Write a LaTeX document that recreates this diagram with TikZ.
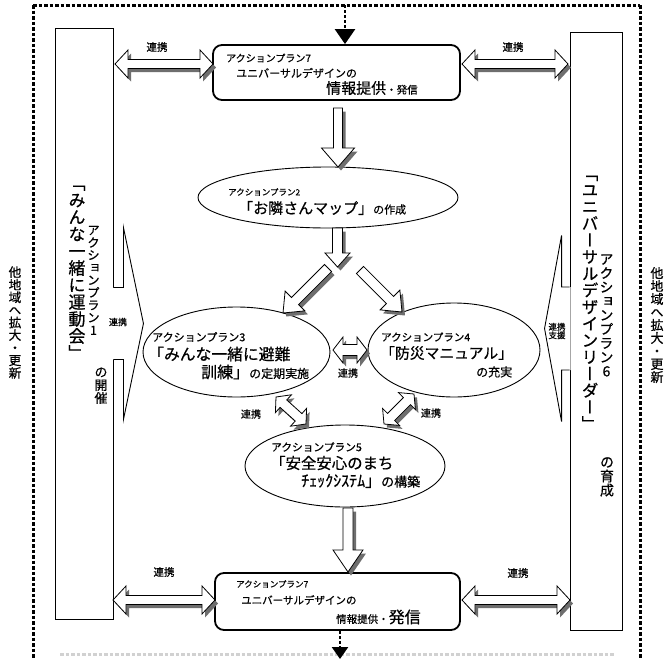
\documentclass[tikz,border=0pt]{standalone}
\usepackage{fontspec}
\usepackage{tikz}
\usetikzlibrary{shapes.geometric,arrows.meta,calc,positioning}
\newfontfamily\jp[FakeBold=0.6]{Noto Sans CJK JP}
\newfontfamily\jpv[RawFeature=+vert,FakeBold=0.6]{Noto Sans CJK JP}
\definecolor{myshadowcolor}{HTML}{6E6E6E}
\newcommand\fsz[1]{\fontsize{#1}{#1}\selectfont}

\ExplSyntaxOn
\NewDocumentCommand\tate{m}{
  \vbox{\offinterlineskip
    \tl_map_inline:nn{#1}{\hbox_to_wd:nn{1em}{\hss\vrule~height~.88em~depth~.12em~width~0pt\relax##1\hss}}}}
\ExplSyntaxOff

\newcommand\arrsetup[2]{%
  \path let \p1=(#1), \p2=(#2),
    \n1={atan2((\y2)-(\y1),(\x2)-(\x1))},
    \n2={veclen((\x2)-(\x1),(\y2)-(\y1))} in
    \pgfextra{\xdef\arrang{\n1}\xdef\arrlen{\n2}};}
\newcommand\singlearr[5]{%
  \arrsetup{#1}{#2}%
  \def\arrpath{(0,-#3) -- ({\arrlen-#5},-#3) -- ({\arrlen-#5},-#4) -- (\arrlen,0) -- ({\arrlen-#5},#4) -- ({\arrlen-#5},#3) -- (0,#3) -- cycle}%
  \path[shift={(#1)}, arrshadow, rotate=\arrang] \arrpath;
  \path[shift={(#1)}, arrbody, rotate=\arrang] \arrpath;}
\newcommand\doublearr[5]{%
  \arrsetup{#1}{#2}%
  \def\arrpath{(0,0) -- (#5,-#4) -- (#5,-#3) -- ({\arrlen-#5},-#3) -- ({\arrlen-#5},-#4) -- (\arrlen,0) -- ({\arrlen-#5},#4) -- ({\arrlen-#5},#3) -- (#5,#3) -- (#5,#4) -- cycle}%
  \path[shift={(#1)}, arrshadow, rotate=\arrang] \arrpath;
  \path[shift={(#1)}, arrbody, rotate=\arrang] \arrpath;}

\begin{document}
\begin{tikzpicture}[x=1pt, y=-1pt, font=\jp,
  pillar/.style={draw, line width=0.9pt, inner sep=0pt},
  plan7/.style={draw, line width=1.8pt, rounded corners=9pt, inner sep=0pt},
  plan/.style={ellipse, draw, line width=0.9pt, inner sep=0pt},
  lbl/.style={inner sep=0pt, anchor=west},
  renkei/.style={inner sep=0pt, font=\jp\fsz{#1}},
  renkei/.default=10.5,
  vtext/.style={inner sep=0pt, font=\jpv\fsz{#1}},
  arrbody/.style={draw, fill=white, line width=0.8pt, line join=miter},
  arrshadow/.style={fill=myshadowcolor, shift={(3,3.5)}},
  dotframe/.style={line width=3pt, dash pattern=on 3.5pt off 2pt},
  stem/.style={line width=2.5pt, dash pattern=on 3pt off 2pt}]
\path[use as bounding box, fill=white] (0,0) rectangle (665,659);
\draw[dotframe] (33,5) -- (640,5);
\draw[dotframe] (33,5) -- (33,659);
\draw[dotframe] (640,5) -- (640,659);
\draw[dotframe, black!18] (60,654) -- (615,654);
\node[vtext=12.6] (sideleft) at (15,322.5) {\tate{他地域へ拡大・更新}};
\node[vtext=13] (sideright) at (657,325) {\tate{他地域へ拡大・更新}};
%
\node[pillar, minimum width=58pt, minimum height=591pt] (lp) at (84,323.5) {};
\node[pillar, minimum width=52pt, minimum height=598pt] (rp) at (596,331) {};
\begin{scope}[shift={(lp.east)}]
  \fill[white] (-1,-36) -- (10,-36) -- (10,-96) -- (30,0) -- (10,96) -- (10,36) -- (-1,36) -- cycle;
  \draw[line width=0.9pt] (0,-36) -- (10,-36) -- (10,-96) -- (30,0) -- (10,96) -- (10,36) -- (0,36);
\end{scope}
\begin{scope}[shift={($(rp.west)+(0,-2.5)$)}]
  \fill[white] (1,-41.5) -- (-8,-41.5) -- (-8,-93) -- (-25,0) -- (-8,93) -- (-8,41.5) -- (1,41.5) -- cycle;
  \draw[line width=0.9pt] (0,-41.5) -- (-8,-41.5) -- (-8,-93) -- (-25,0) -- (-8,93) -- (-8,41.5) -- (0,41.5);
\end{scope}
\node[renkei=9] (lpr) at (118,322) {連携};
\node[renkei=8.5, align=center] (rpr) at (557,331) {連携\\支援};
\node[vtext=17] (lpmain) at (77,268) {\tate{「みんな一緒に運動会」}};
\node[vtext=12.5] (lpsub) at (93.5,280) {\tate{アクションプラン1}};
\node[vtext=13] (lpend) at (101,385) {\tate{の開催}};
\node[vtext=16.7] (rpmain) at (590,298.5) {\tate{「ユニバーサルデザインリーダー」}};
\node[vtext=14] (rpsub) at (606.5,315) {\tate{アクションプラン6}};
\node[vtext=14] (rpend) at (607,476) {\tate{の育成}};
%
\node[plan7, minimum width=247pt, minimum height=55pt] (ap7t) at (336.5,72.5) {};
\node[lbl, font=\jp\fsz{10}] (ap7ta) at (226,58) {アクションプラン7};
\node[lbl, font=\jp\fsz{11}] (ap7tb) at (236,73) {ユニバーサルデザインの};
\node[lbl] (ap7tc) at (326,88) {{\fsz{15}情報提供}{\fsz{10.5}・発信}};
\node[plan7, minimum width=245pt, minimum height=57pt] (ap7b) at (337.5,601.5) {};
\node[lbl, font=\jp\fsz{8.5}] (ap7ba) at (236,584) {アクションプラン7};
\node[lbl, font=\jp\fsz{10.5}] (ap7bb) at (241,600) {ユニバーサルデザインの};
\node[lbl] (ap7bc) at (336,617) {{\fsz{10.5}情報提供・}{\fsz{16}発信}};
%
\node[plan, minimum width=260pt, minimum height=61pt] (ap2) at (328,197.5) {};
\node[lbl, font=\jp\fsz{8.5}] (ap2a) at (228,192) {アクションプラン2};
\node[lbl] (ap2b) at (238,208) {{\fsz{15}「お隣さんマップ」}{\fsz{11}の作成}};
\node[plan, minimum width=187pt, minimum height=90pt] (ap3) at (236.5,352) {};
\node[lbl, font=\jp\fsz{11}] (ap3a) at (152,337) {アクションプラン3};
\node[lbl, font=\jp\fsz{15.8}] (ap3b) at (148,354) {「みんな一緒に避難};
\node[lbl] (ap3c) at (201,372) {{\fsz{16}訓練」}{\fsz{12}の定期実施}};
\node[plan, minimum width=172pt, minimum height=94pt] (ap4) at (454,350) {};
\node[lbl, font=\jp\fsz{10.5}] (ap4a) at (381,337) {アクションプラン4};
\node[lbl, font=\jp\fsz{14.8}] (ap4b) at (380,353) {「防災マニュアル」};
\node[lbl, font=\jp\fsz{12}] (ap4c) at (476,372) {の充実};
\node[plan, minimum width=200pt, minimum height=82pt] (ap5) at (345,466) {};
\node[lbl, font=\jp\fsz{10.7}] (ap5a) at (271,447) {アクションプラン5};
\node[lbl, font=\jp\fsz{15.4}] (ap5b) at (270,463) {「安全安心のまち};
\node[lbl] (ap5c) at (301,481) {{\fsz{16}ﾁｪｯｸｼｽﾃﾑ」}{\fsz{13}の構築}};
%
\coordinate (topin) at (345,5);
\coordinate (botout) at (340,659);
\draw[stem, -{Triangle[width=20pt,length=15pt]}] (topin) -- (topin |- ap7t.north);
\draw[stem, -{Triangle[width=16pt,length=12pt]}] (ap7b.south -| botout) -- (botout);
%
\coordinate (a1s) at (338,108);   \coordinate (a1e) at (338,167);
\coordinate (a2s) at (337.5,228); \coordinate (a2e) at (337.5,267);
\coordinate (d1s) at (328,268);   \coordinate (d1e) at (283,313);
\coordinate (d2s) at (360,270);   \coordinate (d2e) at (402,312);
\coordinate (a5s) at (348,508);   \coordinate (a5e) at (348,572);
\singlearr{a1s}{a1e}{4.5}{16.5}{19}
\singlearr{a2s}{a2e}{5}{12.5}{14}
\singlearr{d1s}{d1e}{5}{14}{17}
\singlearr{d2s}{d2e}{5}{14}{17}
\singlearr{a5s}{a5e}{5}{15}{22}
%
\coordinate (tl1) at (115,64); \coordinate (tl2) at (213,64);
\coordinate (tr1) at (462,64); \coordinate (tr2) at (568,64);
\coordinate (bl1) at (113,600); \coordinate (bl2) at (215,600);
\coordinate (br1) at (462,600); \coordinate (br2) at (570,600);
\coordinate (m1) at (333,350); \coordinate (m2) at (367,350);
\coordinate (l1) at (276,397); \coordinate (l2) at (306,424);
\coordinate (r1) at (414,394); \coordinate (r2) at (384,424);
\doublearr{tl1}{tl2}{4.5}{14}{13}
\doublearr{tr1}{tr2}{4.5}{14}{13}
\doublearr{bl1}{bl2}{4.5}{14}{13}
\doublearr{br1}{br2}{4.5}{14}{13}
\doublearr{m1}{m2}{5.5}{13}{10}
\doublearr{l1}{l2}{5}{12}{10}
\doublearr{r1}{r2}{5}{12}{10}
\node[renkei] (rtl) at (157,47) {連携};
\node[renkei] (rtr) at (513,47) {連携};
\node[renkei] (rbl) at (164,572) {連携};
\node[renkei] (rbr) at (518,573) {連携};
\node[renkei=10] (rm) at (348,373) {連携};
\node[renkei=10] (rl) at (251,414) {連携};
\node[renkei=10] (rr) at (431,413) {連携};
\end{tikzpicture}
\end{document}
